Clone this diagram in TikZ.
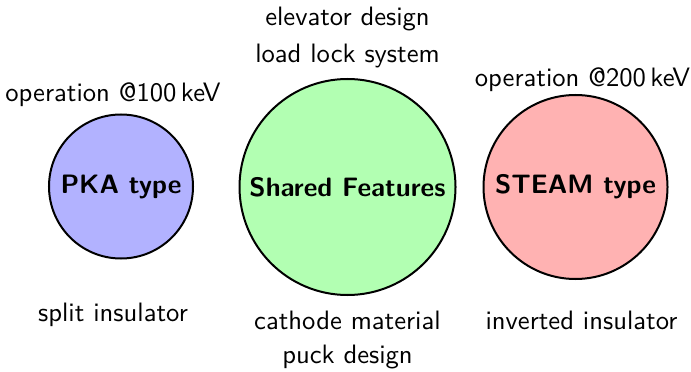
\documentclass[tikz,border=0pt]{standalone}
\begin{document}
\begin{tikzpicture}[x=0.4pt,y=-0.4pt,
  font=\fontsize{10.65pt}{13pt}\selectfont\sffamily,
  feature/.style={circle,draw=black,line width=0.8pt,inner sep=0pt,font=\fontsize{10.65pt}{13pt}\selectfont\sffamily\bfseries},
  note/.style={anchor=base,inner sep=0pt}]
\useasboundingbox (0,0) rectangle (691,372);
% the three groups
\node[feature,fill=blue!30,minimum size=57.6pt]  (pka)    at (121,186.5) {PKA type};
\node[feature,fill=green!30,minimum size=86.4pt] (shared) at (347.5,187) {Shared Features};
\node[feature,fill=red!30,minimum size=73.6pt]   (steam)  at (575.5,187) {STEAM type};
% properties of each group
\node[note] (pkaop)   at (113,102) {operation @100\,keV};
\node[note] (pkains)  at (113,321) {split insulator};
\node[note] (elev)    at (347.5,26) {elevator design};
\node[note] (lock)    at (347.5,63) {load lock system};
\node[note] (cath)    at (347.5,329) {cathode material};
\node[note] (puck)    at (347.5,363) {puck design};
\node[note] (steamop) at (582.5,87) {operation @200\,keV};
\node[note] (steamins) at (581.5,329) {inverted insulator};
\end{tikzpicture}
\end{document}
